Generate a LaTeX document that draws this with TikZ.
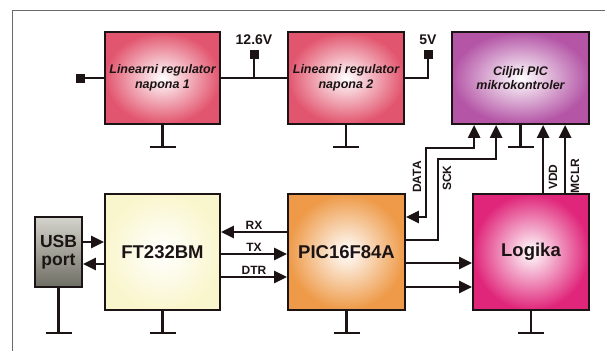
\documentclass[tikz,border=0pt]{standalone}
\usepackage{fontspec}
\setmainfont{Liberation Sans}
\usepackage{xcolor}
\usepackage{tikz}
\usetikzlibrary{arrows.meta,positioning,calc}
\definecolor{regR}{HTML}{E2556E}
\definecolor{tgtP}{HTML}{B455A6}
\definecolor{ftY}{HTML}{F7F2B8}
\definecolor{picO}{HTML}{EE9A48}
\definecolor{logM}{HTML}{E0267A}
\definecolor{usbL}{HTML}{D4D4CC}
\definecolor{usbD}{HTML}{6E6E64}
\definecolor{inkP}{HTML}{1C1414}
\definecolor{frameL}{HTML}{6A6A6A}
\tikzset{
  blk/.style={draw=inkP, line width=1.8pt, inner sep=0pt, shading=radial,
              text=inkP, font=\bfseries, align=center},
  regbox/.style={blk, outer color=regR, inner color=white,
                 font=\fontsize{12.5}{14.5}\selectfont\bfseries\itshape},
  tgtbox/.style={blk, outer color=tgtP, inner color=white,
                 font=\fontsize{12.5}{14.5}\selectfont\bfseries\itshape},
  chipbox/.style={blk, font=\fontsize{18.5}{19}\selectfont\bfseries},
  usbbox/.style={draw=inkP, line width=1.8pt, inner sep=0pt,
                 top color=usbL, bottom color=usbD, text=inkP, align=center,
                 font=\fontsize{17.5}{18}\selectfont\bfseries},
  wire/.style={line width=2.7pt, color=inkP},
  tip/.tip={Triangle[length=13pt, width=12pt]},
  sig/.style={wire, -tip},
  term/.style={fill=inkP, minimum size=9pt, inner sep=0pt},
  vlab/.style={font=\fontsize{14}{15}\selectfont\bfseries, text=inkP},
  slab/.style={font=\fontsize{12}{12}\selectfont\bfseries, text=inkP, inner sep=1.5pt},
}

\begin{document}
\begin{tikzpicture}[x=1pt, y=-1pt]
  \useasboundingbox (0,0) rectangle (605,351);
  \draw[frameL, semithick] (605,10) -- (12,10) -- (12,351);
  % power supply
  \node[regbox, minimum width=115pt, minimum height=92pt] (reg1) at (162.5,78)
    {Linearni regulator\\napona 1};
  \node[regbox, minimum width=116pt, minimum height=92pt] (reg2) at (346,78)
    {Linearni regulator\\napona 2};
  \node[tgtbox, minimum width=137pt, minimum height=92pt] (target) at (520.5,78)
    {Ciljni PIC\\mikrokontroler};
  % programmer
  \node[usbbox, minimum width=47pt, minimum height=70pt] (usb) at (58.5,252)
    {USB\\port};
  \node[chipbox, outer color=ftY!70!white, inner color=white, minimum width=115pt,
        minimum height=116pt] (ft) at (162.5,252) {FT232BM};
  \node[chipbox, outer color=picO, inner color=white, minimum width=117pt,
        minimum height=116pt] (pic) at (346.5,252) {PIC16F84A};
  \node[chipbox, outer color=logM, inner color=white, minimum width=116pt,
        minimum height=116pt] (logika) at (531,252) {Logika};
  % supply terminals
  \node[term] (vin) at (80,78) {};
  \node[term] (t126) at (254,54) {};
  \node[term] (t5) at (428,54) {};
  \node[vlab, above=1pt of t126] (l126) {12.6V};
  \node[vlab, above=1pt of t5] (l5) {5V};
  \draw[wire] (vin) -- (reg1.west);
  \draw[wire] (reg1.east) -- (reg2.west);
  \draw[wire] (t126) -- (t126 |- reg1.east);
  \draw[wire] (reg2.east) -| (t5);
  % grounds
  \foreach \n in {reg1,reg2,target,ft,pic,logika}
    \draw[wire] (\n.south) -- ++(0,22) ++(-13,0) -- ++(26,0);
  \draw[wire] (usb.south) -- ++(0,45) ++(-13,0) -- ++(26,0);
  % usb link
  \draw[sig] ($(usb.east)+(0,-10)$) -- ($(ft.west)+(0,-10)$);
  \draw[sig] ($(ft.west)+(0,12)$) -- ($(usb.east)+(0,12)$);
  % serial lines
  \draw[sig] ($(pic.west)+(0,-20)$) -- node[slab, above] (lrx) {RX} ($(ft.east)+(0,-20)$);
  \draw[sig] ($(ft.east)+(0,2)$) -- node[slab, above] (ltx) {TX} ($(pic.west)+(0,2)$);
  \draw[sig] ($(ft.east)+(0,25)$) -- node[slab, above] (ldtr) {DTR} ($(pic.west)+(0,25)$);
  % pic to logika
  \draw[sig] ($(pic.east)+(0,11)$) -- ($(logika.west)+(0,11)$);
  \draw[sig] ($(pic.east)+(0,35)$) -- ($(logika.west)+(0,35)$);
  % programming lines
  \coordinate (pdata) at ($(target.south west)+(23,0)$);
  \coordinate (psck) at ($(target.south west)+(45,0)$);
  \draw[wire, tip-tip] ($(pic.east)+(0,-35)$) -| (426,148) -| (pdata);
  \draw[sig] ($(pic.east)+(0,-12)$) -| (438,159) -| (psck);
  \draw[sig] ($(logika.north west)+(71,0)$) coordinate (pvdd) -- (pvdd |- target.south);
  \draw[sig] ($(logika.north west)+(93,0)$) coordinate (pmclr) -- (pmclr |- target.south);
  \node[slab, rotate=90, anchor=center] (ldata) at (417,177) {DATA};
  \node[slab, rotate=90, anchor=center] (lsck) at (447,178) {SCK};
  \node[slab, rotate=90, anchor=center] (lvdd) at (553,177) {VDD};
  \node[slab, rotate=90, anchor=center] (lmclr) at (575,176) {MCLR};
\end{tikzpicture}
\end{document}
